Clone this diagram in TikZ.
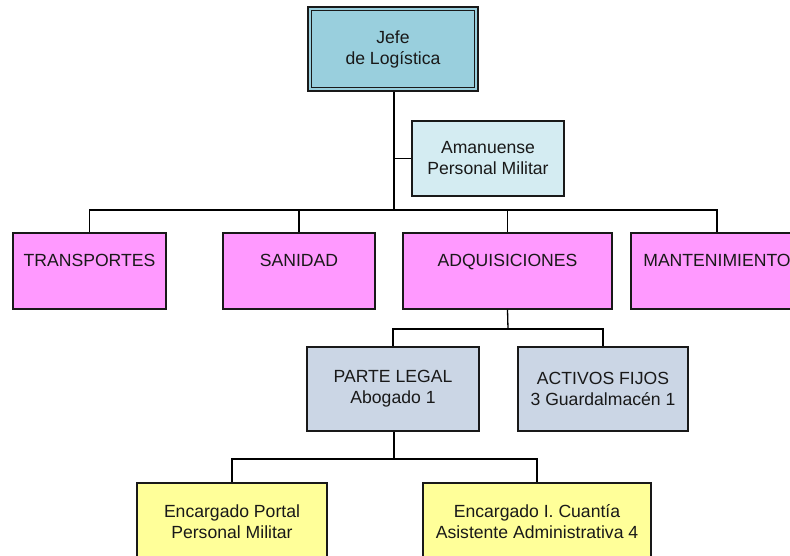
\documentclass[tikz,border=0pt]{standalone}
\usepackage{fontspec}
\setmainfont{Liberation Sans}
\definecolor{jefefill}{RGB}{153,207,221}
\definecolor{amanfill}{RGB}{212,236,242}
\definecolor{areafill}{RGB}{255,153,255}
\definecolor{secfill}{RGB}{203,214,229}
\definecolor{staffill}{RGB}{255,255,153}
\definecolor{edge}{RGB}{25,25,25}
\begin{document}
\begin{tikzpicture}[x=1pt,y=-1pt,
  box/.style={draw=edge,line width=1.3pt,rectangle,inner sep=0pt,align=center,
    text=black!90,font={\fontsize{17.6}{21}\selectfont}},
  link/.style={draw=black,line width=1.3pt}]
\useasboundingbox (0,0) rectangle (790,555);
\clip (0,0) rectangle (790,555);

% head of logistics, with a double frame
\node[box,fill=jefefill,minimum width=170pt,minimum height=84pt] (jefe) at (393,49) {Jefe\\de Logística};
\draw[edge,line width=1.1pt] ([shift={(4pt,-4pt)}]jefe.north west) rectangle ([shift={(-4pt,4pt)}]jefe.south east);

% staff assistant
\node[box,fill=amanfill,minimum width=152pt,minimum height=75pt] (aman) at (488,158.5) {Amanuense\\Personal Militar};

% departments
\node[box,fill=areafill,minimum width=153pt,minimum height=76pt] (trans) at (89.5,271) {TRANSPORTES\\~};
\node[box,fill=areafill,minimum width=152pt,minimum height=76pt] (sani) at (299,271) {SANIDAD\\~};
\node[box,fill=areafill,minimum width=209pt,minimum height=76pt] (adq) at (507.5,271) {ADQUISICIONES\\~};
\node[box,fill=areafill,minimum width=172pt,minimum height=76pt] (mant) at (717,271) {MANTENIMIENTO\\~};

% sections under procurement
\node[box,fill=secfill,minimum width=172pt,minimum height=84pt] (legal) at (393,389) {PARTE LEGAL\\Abogado 1};
\node[box,fill=secfill,minimum width=170pt,minimum height=84pt] (activos) at (603,389) {ACTIVOS FIJOS\\3 Guardalmacén 1};

% staff under the legal section
\node[box,fill=staffill,minimum width=190pt,minimum height=78pt] (portal) at (232,522) {Encargado Portal\\Personal Militar};
\node[box,fill=staffill,minimum width=228pt,minimum height=78pt] (cuantia) at (537,522) {Encargado I. Cuantía\\Asistente Administrativa 4};

% connectors
\coordinate (bus1) at (394,210);
\coordinate (bus2) at (508,329);
\coordinate (bus3) at (394,459);
\draw[link] (jefe.south -| bus1) -- (bus1);
\draw[link] (aman.west) -- (aman.west -| bus1);
\draw[link] (bus1) -| (trans.north);
\draw[link] (bus1) -| (sani.north);
\draw[link] (bus1) -| (adq.north);
\draw[link] (bus1) -| (mant.north);
\draw[link] (adq.south) -- (bus2);
\draw[link] (bus2) -| (legal.north);
\draw[link] (bus2) -| (activos.north);
\draw[link] (legal.south -| bus3) -- (bus3);
\draw[link] (bus3) -| (portal.north);
\draw[link] (bus3) -| (cuantia.north);
\end{tikzpicture}
\end{document}
